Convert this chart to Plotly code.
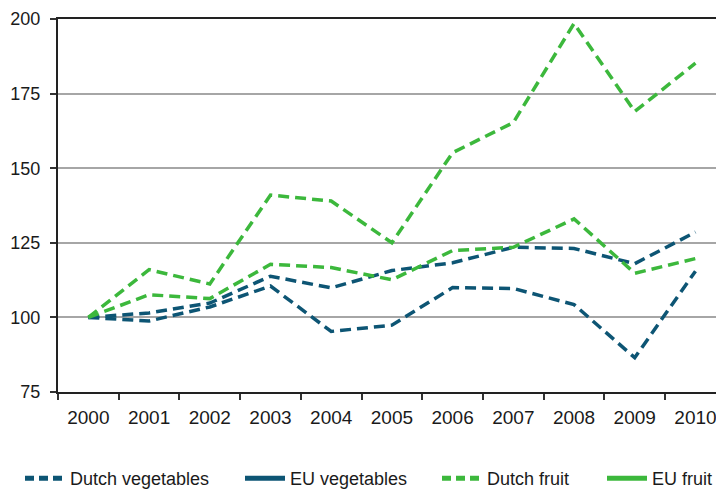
import plotly.graph_objects as go

FONT = "Liberation Sans, Arial, sans-serif"
BLUE = "#0d5574"
GREEN = "#3cb83c"

years = ["2000", "2001", "2002", "2003", "2004", "2005",
         "2006", "2007", "2008", "2009", "2010"]

dutch_veg = [100, 98.8, 103.5, 110.5, 95.3, 97.4, 110, 109.7, 104.3, 86.5, 115.5]
eu_veg = [100, 101.5, 104.8, 113.8, 109.9, 115.7, 118.3, 123.5, 123.1, 118, 128.6]
dutch_fruit = [100, 116, 111.2, 141, 139, 125, 155.2, 165.3, 198.5, 169, 185.2]
eu_fruit = [100, 107.6, 106.3, 117.8, 116.7, 112.6, 122.4, 123.5, 133, 114.8, 119.7]

series = [
    ("Dutch vegetables", dutch_veg, BLUE, "dash"),
    ("EU vegetables", eu_veg, BLUE, "solid"),
    ("Dutch fruit", dutch_fruit, GREEN, "dash"),
    ("EU fruit", eu_fruit, GREEN, "solid"),
]
legend_text_x = [70, 290, 487, 652]  # where each legend label starts on the page, px

# page body has an 8px margin, so the figure is drawn 8px in from the corner
W, H = 716, 481
L, T, B = 50, 11, 97
PW = W - L
PH = H - T - B

fig = go.Figure()

# every line in the plot is drawn dashed
for name, vals, color, dash in series:
    fig.add_trace(go.Scatter(x=years, y=vals, mode="lines", showlegend=False,
                             line=dict(color=color, width=3.5, dash="11px,6px")))

# legend entries keep their own dash style, one legend box each
legends = {}
for i, (name, vals, color, dash) in enumerate(series):
    key = "legend" if i == 0 else "legend%d" % (i + 1)
    fig.add_trace(go.Scatter(x=[None], y=[None], mode="lines", name=name,
                             legend=key,
                             line=dict(color=color, width=5,
                                       dash="9px,5px" if dash == "dash" else "solid")))
    legends[key] = dict(orientation="h", x=(legend_text_x[i] - 8 - 50 - L) / PW,
                        xanchor="left", y=-68 / PH, yanchor="top", font=dict(size=18),
                        itemwidth=40, bgcolor="rgba(0,0,0,0)")

fig.update_layout(
    width=W, height=H,
    margin=dict(l=L, r=0, t=T, b=B, autoexpand=False),
    plot_bgcolor="white", paper_bgcolor="white",
    font=dict(family=FONT, size=19, color="#1a1a1a"),
    showlegend=True,
    **legends,
)

fig.update_xaxes(type="category", range=[-0.5, 10.47], tickson="boundaries",
                 ticks="outside", ticklen=6, tickcolor="#333", tickwidth=1.5,
                 showline=True, linecolor="#222", linewidth=2, mirror=True,
                 showgrid=False, ticklabelstandoff=7, automargin=False,
                 ticklabeloverflow="allow")

fig.update_yaxes(range=[75, 200], tickvals=[75, 100, 125, 150, 175, 200],
                 ticks="outside", ticklen=6, tickcolor="#333", tickwidth=1.5,
                 showline=True, linecolor="#222", linewidth=2,
                 showgrid=True, gridcolor="#a6a6a6", gridwidth=1.5,
                 zeroline=False, ticklabelstandoff=6, automargin=False,
                 ticklabeloverflow="allow", tickfont=dict(size=18))

fig.write_html("out.html")
